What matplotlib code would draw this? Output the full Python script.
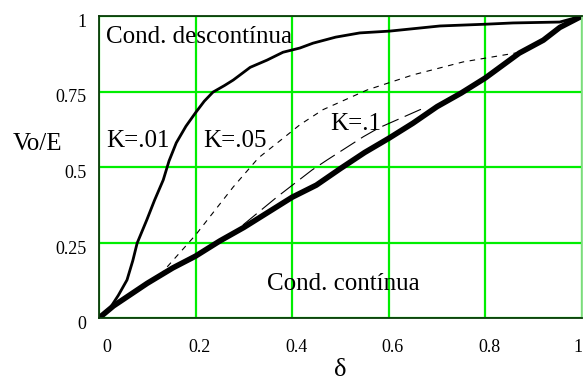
import matplotlib
matplotlib.use("Agg")
import matplotlib.pyplot as plt
import matplotlib.transforms as mtransforms

# Continuous conduction (thick)
x_cont = [0.0, 0.03, 0.058, 0.1, 0.153, 0.2, 0.25, 0.3, 0.35, 0.4, 0.45, 0.5, 0.55, 0.6, 0.65, 0.7, 0.75, 0.8, 0.87, 0.92, 0.954, 1.0]
y_cont = [0.0, 0.04, 0.07, 0.115, 0.166, 0.205, 0.255, 0.3, 0.35, 0.4, 0.44, 0.495, 0.548, 0.595, 0.645, 0.7, 0.745, 0.795, 0.877, 0.92, 0.962, 1.0]

# K = .01 (solid)
x_k01 = [0.0, 0.012, 0.023, 0.04, 0.058, 0.07, 0.079, 0.099, 0.115, 0.133, 0.145, 0.16, 0.18, 0.2, 0.218, 0.236, 0.26, 0.278, 0.313, 0.348, 0.381, 0.416, 0.443, 0.49, 0.54, 0.602, 0.706, 0.803, 0.857, 0.954, 1.0]
y_k01 = [0.0, 0.014, 0.033, 0.075, 0.126, 0.19, 0.248, 0.325, 0.39, 0.457, 0.52, 0.58, 0.635, 0.68, 0.718, 0.748, 0.77, 0.788, 0.83, 0.854, 0.88, 0.894, 0.91, 0.93, 0.944, 0.95, 0.967, 0.973, 0.977, 0.98, 1.0]

# K = .05 (short dashes)
x_k05 = [0.126, 0.2, 0.278, 0.33, 0.385, 0.416, 0.464, 0.555, 0.65, 0.754, 0.872]
y_k05 = [0.142, 0.275, 0.434, 0.53, 0.6, 0.64, 0.69, 0.755, 0.805, 0.848, 0.88]

# K = .1 (long dashes)
x_k1 = [0.298, 0.368, 0.441, 0.472, 0.547, 0.58, 0.665, 0.68]
y_k1 = [0.308, 0.4, 0.49, 0.523, 0.6, 0.63, 0.69, 0.695]

xticks = [0, 0.2, 0.4, 0.6, 0.8, 1]
xtick_labels = ["0", "0.2", "0.4", "0.6", "0.8", "1"]
yticks = [0, 0.25, 0.5, 0.75, 1]
ytick_labels = ["0", "0.25", "0.5", "0.75", "1"]

plt.rcParams['font.family'] = ['Liberation Serif', 'DejaVu Serif']

W, H = 583, 383
fig = plt.figure(figsize=(W / 100, H / 100), dpi=100)
left, right, top, bottom = 99, 582, 16, 318
ax = fig.add_axes([left / W, 1 - bottom / H, (right - left) / W, (bottom - top) / H])
ax.set_xlim(0, 1)
ax.set_ylim(0, 1)

ax.set_xticks(xticks)
ax.set_xticklabels(xtick_labels, fontsize=13)
ax.set_yticks(yticks)
ax.set_yticklabels(ytick_labels, fontsize=13)
ax.tick_params(length=0)
ax.tick_params(axis='x', pad=15)
ax.tick_params(axis='y', pad=9)
ax.grid(True, color='#00ee00', linewidth=1.6)
ax.set_axisbelow(True)
for s in ['left', 'bottom', 'top']:
    ax.spines[s].set_color('#0a3a0a')
    ax.spines[s].set_linewidth(1.3)
ax.spines['right'].set_color('#88dd88')
ax.spines['right'].set_linewidth(1.3)

n_x = len(xtick_labels)
for i, lab in enumerate(ax.get_xticklabels()):
    dx = 8 if i == 0 else (-4 if i == n_x - 1 else 4)
    lab.set_transform(lab.get_transform() + mtransforms.ScaledTranslation(dx / 100, 0, fig.dpi_scale_trans))
for lab in ax.get_yticklabels():
    lab.set_transform(lab.get_transform() + mtransforms.ScaledTranslation(0, -4.5 / 100, fig.dpi_scale_trans))

ax.plot(x_k05, y_k05, color='black', linewidth=0.8, linestyle=(0, (5, 5)))
ax.plot(x_k1, y_k1, color='black', linewidth=0.8, linestyle=(0, (16, 6)))
ax.plot(x_k01, y_k01, color='black', linewidth=2.0, solid_joinstyle='round')
ax.plot(x_cont, y_cont, color='black', linewidth=4.0, solid_capstyle='round', solid_joinstyle='round')

fs = 18
ax.text(0.0145, 0.91, "Cond. descontínua", fontsize=fs, va='baseline', ha='left')
ax.text(0.0145, 0.566, "K=.01", fontsize=fs, va='baseline', ha='left')
ax.text(0.215, 0.566, "K=.05", fontsize=fs, va='baseline', ha='left')
ax.text(0.478, 0.623, "K=.1", fontsize=fs, va='baseline', ha='left')
ax.text(0.348, 0.093, "Cond. contínua", fontsize=fs, va='baseline', ha='left')

ax.text(-0.127, 0.556, "Vo/E", fontsize=fs, va='baseline', ha='center', clip_on=False)
ax.text(0.5, -0.172, "δ", fontsize=19, va='center', ha='center', clip_on=False)

fig.savefig("out.png", dpi=100)
